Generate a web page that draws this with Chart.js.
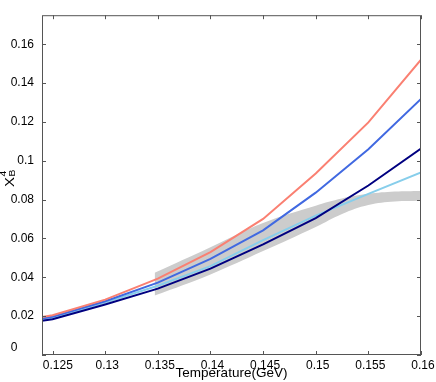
<!DOCTYPE html>
<html>
<head>
<meta charset="utf-8">
<script src="https://cdn.jsdelivr.net/npm/chart.js@4/dist/chart.umd.min.js"></script>
<style>
  body { margin: 0; background: #fff; }
  #wrap { width: 436px; height: 382px; }
</style>
</head>
<body>
<div id="wrap"><canvas id="chi4" width="436" height="382"></canvas></div>
<script>
// temperatures (GeV) for the four curves
const temps = [0.124, 0.125, 0.13, 0.135, 0.14, 0.145, 0.15, 0.155, 0.16]
const salmonVals = [0.0195, 0.0205, 0.0285, 0.0393, 0.053, 0.0701, 0.0935, 0.1198, 0.1521]
const royalVals = [0.0188, 0.0197, 0.0277, 0.0373, 0.0495, 0.0642, 0.0836, 0.106, 0.1319]
const skyVals = [0.0183, 0.0192, 0.0270, 0.0357, 0.0458, 0.0592, 0.0718, 0.083, 0.094]
const navyVals = [0.0176, 0.0184, 0.0260, 0.0342, 0.0445, 0.057, 0.0705, 0.0873, 0.1063]

// gray band (lattice)
const bandTemps = [0.1347, 0.14, 0.145, 0.15, 0.1525, 0.155, 0.1575, 0.16]
const bandUpper = [0.0423, 0.0555, 0.068, 0.0769, 0.0806, 0.0830, 0.0842, 0.0845]
const bandLower = [0.0306, 0.0415, 0.0535, 0.0659, 0.0726, 0.0772, 0.0790, 0.0794]

const xTicks = [0.125, 0.13, 0.135, 0.14, 0.145, 0.15, 0.155, 0.16]
const yTicks = [0, 0.02, 0.04, 0.06, 0.08, 0.1, 0.12, 0.14, 0.16]

const fontFamily = "'Liberation Sans', Arial, Helvetica, sans-serif"
const frameColor = '#555555'

const pts = (xs, ys) => xs.map((x, i) => ({ x: x, y: ys[i] }))
const fmt = v => String(+v.toFixed(3))

const lineSet = (label, color, vals, order) => ({
    label: label,
    data: pts(temps, vals),
    borderColor: color,
    borderWidth: 2,
    pointRadius: 0,
    tension: 0,
    fill: false,
    order: order
})

// frame with inward ticks on all sides + axis titles
const framePlugin = {
    id: 'frame',
    afterDraw(chart) {
        const ctx = chart.ctx
        const a = chart.chartArea
        const xs = chart.scales.x
        const ys = chart.scales.y
        ctx.save()
        ctx.strokeStyle = frameColor
        ctx.lineWidth = 1
        ctx.strokeRect(a.left + 0.5, a.top + 0.5, a.right - a.left - 1, a.bottom - a.top - 1)
        ctx.beginPath()
        const tl = 4
        xTicks.forEach(v => {
            const px = Math.round(xs.getPixelForValue(v)) + 0.5
            ctx.moveTo(px, a.bottom); ctx.lineTo(px, a.bottom - tl)
            ctx.moveTo(px, a.top); ctx.lineTo(px, a.top + tl)
        })
        yTicks.forEach(v => {
            const py = Math.round(ys.getPixelForValue(v)) + 0.5
            ctx.moveTo(a.left, py); ctx.lineTo(a.left + tl, py)
            ctx.moveTo(a.right, py); ctx.lineTo(a.right - tl, py)
        })
        ctx.stroke()

        // x title
        ctx.fillStyle = '#000'
        ctx.font = '13.5px ' + fontFamily
        ctx.textAlign = 'center'
        ctx.textBaseline = 'alphabetic'
        ctx.fillText('Temperature(GeV)', (a.left + a.right) / 2, 377)

        // y title: X^4_B rotated
        ctx.translate(14, 187)
        ctx.rotate(-Math.PI / 2)
        ctx.scale(1.15, 1)
        ctx.textAlign = 'left'
        ctx.font = '13px ' + fontFamily
        ctx.fillText('X', 0, 0)
        const w = ctx.measureText('X').width
        ctx.font = '9px ' + fontFamily
        ctx.fillText('4', w + 0.5, -8)
        ctx.fillText('B', w + 0.5, 0.5)
        ctx.restore()
    }
}

new Chart(document.getElementById('chi4'), {
    type: 'line',
    data: {
        datasets: [
            lineSet('salmon', '#fa8072', salmonVals, 1),
            lineSet('royal', '#4169e1', royalVals, 2),
            lineSet('sky', '#87ceeb', skyVals, 4),
            lineSet('navy', '#000080', navyVals, 3),
            {
                label: 'band lower',
                data: pts(bandTemps, bandLower),
                borderWidth: 0,
                borderColor: 'rgba(0,0,0,0)',
                pointRadius: 0,
                tension: 0.4,
                fill: false,
                order: 10
            },
            {
                label: 'band upper',
                data: pts(bandTemps, bandUpper),
                borderWidth: 0,
                borderColor: 'rgba(0,0,0,0)',
                backgroundColor: '#cccccc',
                pointRadius: 0,
                tension: 0.4,
                fill: '-1',
                order: 9
            }
        ]
    },
    options: {
        responsive: false,
        animation: false,
        layout: { padding: { top: 8, right: 15, left: 0, bottom: 0 } },
        plugins: {
            legend: { display: false },
            tooltip: { enabled: false }
        },
        scales: {
            x: {
                type: 'linear',
                min: 0.124,
                max: 0.16,
                grid: { display: false, drawTicks: false },
                border: { display: false },
                afterBuildTicks: s => { s.ticks = xTicks.map(v => ({ value: v })) },
                afterFit: s => { s.height = 27 },
                ticks: {
                    padding: 3,
                    labelOffset: 2,
                    maxRotation: 0,
                    autoSkip: false,
                    color: '#000',
                    font: { family: fontFamily, size: 12 },
                    callback: v => v === 0.125 ? '  ' + fmt(v) : fmt(v)
                }
            },
            y: {
                min: 0,
                max: 0.175,
                grid: { display: false, drawTicks: false },
                border: { display: false },
                afterBuildTicks: s => { s.ticks = yTicks.map(v => ({ value: v })) },
                afterFit: s => { s.width = 42 },
                ticks: {
                    padding: 8,
                    autoSkip: false,
                    color: '#000',
                    font: { family: fontFamily, size: 12 },
                    callback: v => v === 0 ? ['0     ', ''] : fmt(v)
                }
            }
        }
    },
    plugins: [framePlugin]
});
</script>
</body>
</html>
